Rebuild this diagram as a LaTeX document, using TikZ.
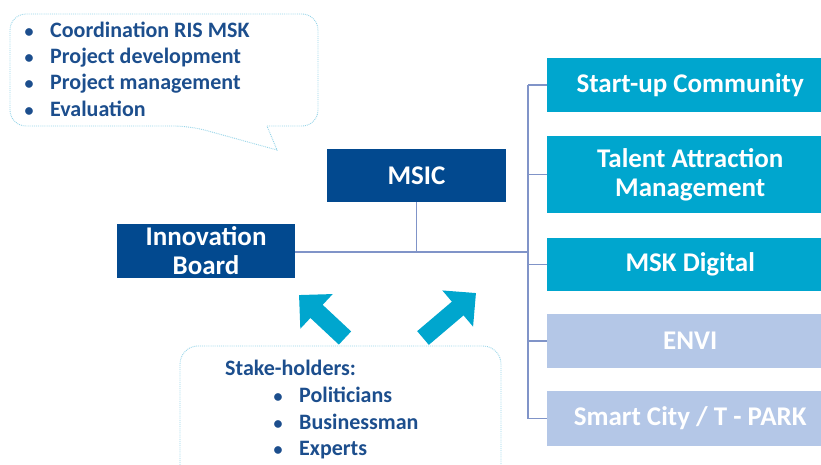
\documentclass[tikz,border=0pt]{standalone}
\usepackage{fontspec}
\setmainfont{Carlito}
\usetikzlibrary{arrows.meta}
\definecolor{darkblue}{RGB}{2,73,143}
\definecolor{textblue}{RGB}{28,78,141}
\definecolor{cyanbox}{RGB}{0,166,206}
\definecolor{paleblue}{RGB}{180,199,231}
\definecolor{treeline}{RGB}{128,148,200}
\definecolor{bubbleline}{RGB}{150,212,232}
\tikzset{
  headbox/.style={fill=darkblue,text=white,font=\bfseries\fontsize{27}{29}\selectfont,
    align=center,inner sep=0pt},
  unitbox/.style={fill=cyanbox,text=white,font=\bfseries\fontsize{27}{29}\selectfont,
    align=center,inner sep=0pt,minimum width=286pt,minimum height=54pt,anchor=west},
  palebox/.style={unitbox,fill=paleblue},
  tree/.style={treeline,line width=1.6pt},
  bubble/.style={bubbleline,line width=0.9pt,densely dotted},
  bigarrow/.style={cyanbox,line width=18pt,-{Triangle[length=24pt,width=46pt]}},
  listtext/.style={text=textblue,font=\bfseries\fontsize{22}{26}\selectfont,
    inner sep=0pt,anchor=base west},
  bullet/.style={text=textblue,font=\bfseries\fontsize{18}{26}\selectfont,
    inner sep=0pt,anchor=base}
}
\begin{document}
\begin{tikzpicture}[x=1pt,y=-1pt]
  \useasboundingbox (0,0) rectangle (821,464);

  % speech bubble with tasks:
  \draw[bubble] (267,126) [rounded corners=16] -- (318,126) -- (318,14) -- (10,14)
    -- (10,126) -- (190,126) [sharp corners] -- (277,150) -- cycle;
  \foreach \task/\y [count=\i] in {Coordination RIS MSK/37,Project development/63,
      Project management/89,Evaluation/116} {
    \node (taskdot\i) [bullet] at (29,\y) {\textbullet};
    \node (task\i) [listtext] at (50,\y) {\task};
  }

  % head boxes:
  \node (msic) [headbox,minimum width=179pt,minimum height=53pt] at (416.5,175.5) {MSIC};
  \node (board) [headbox,minimum width=178pt,minimum height=54pt] at (206,251) {Innovation\\Board};

  % unit boxes:
  \node (startup) [unitbox,minimum height=54pt] at (547,85) {Start-up Community};
  \node (talent) [unitbox,minimum height=77pt] at (547,174.5) {Talent Attraction\\Management};
  \node (digital) [unitbox,minimum height=53pt] at (547,264.5) {MSK Digital};
  \node (envi) [palebox,minimum height=54pt] at (547,341) {ENVI};
  \node (smart) [palebox,minimum height=55pt] at (547,418.5) {Smart City / T - PARK};

  % connect boxes:
  \coordinate (hub) at (528,252);
  \draw[tree] (board.east |- hub) -- (hub);
  \draw[tree] (msic.south) -- (msic.south |- hub);
  \draw[tree] (hub |- startup.west) -- (hub |- smart.west);
  \foreach \unit in {startup,talent,digital,envi,smart}
    \draw[tree] (hub |- \unit.west) -- (\unit.west);

  % stake-holders box:
  \draw[bubble,rounded corners=18] (180,480) -- (180,346) -- (501,346) -- (501,480);
  \node (stake) [listtext] at (225,375) {Stake-holders:};
  \foreach \who/\y [count=\i] in {Politicians/402,Businessman/429,Experts/455} {
    \node (whodot\i) [bullet] at (278,\y) {\textbullet};
    \node (who\i) [listtext] at (299,\y) {\who};
  }

  % arrows towards the boards:
  \coordinate (leftfoot) at (345,338);
  \coordinate (lefttip) at (299,295);
  \coordinate (rightfoot) at (423,338);
  \coordinate (righttip) at (476,293);
  \draw[bigarrow] (leftfoot) -- (lefttip);
  \draw[bigarrow] (rightfoot) -- (righttip);
\end{tikzpicture}
\end{document}
